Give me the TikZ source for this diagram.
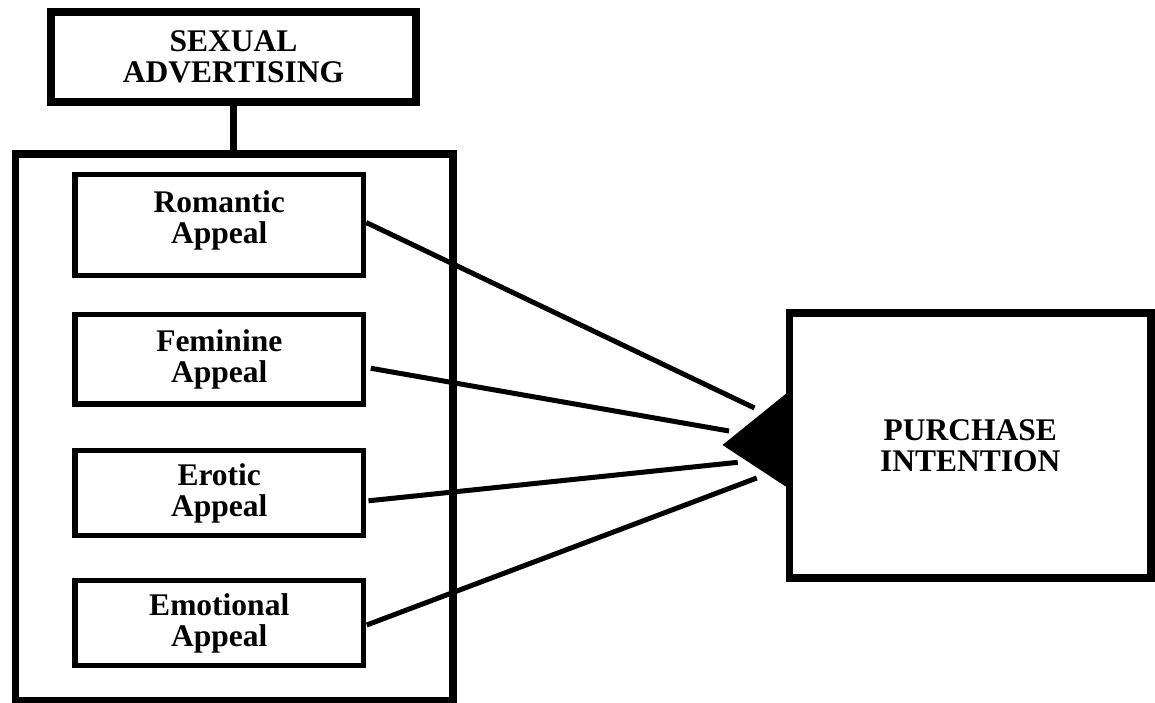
\documentclass[tikz,border=0pt]{standalone}
\usepackage{fontspec}
\setmainfont{Liberation Serif}
\usetikzlibrary{calc}
\tikzset{
  txt/.style={align=center, font=\bfseries\fontsize{31.5}{31}\selectfont},
  thickbox/.style={draw, line width=7.5pt, inner sep=0pt, txt},
  appealbox/.style={draw, line width=5.5pt, inner sep=0pt, txt, minimum width=288.5pt},
  link/.style={line width=5pt},
}
\begin{document}
\begin{tikzpicture}[x=1pt,y=-1pt]
\useasboundingbox (0,0) rectangle (1155,702);
% top box and group
\node[thickbox, minimum width=365pt, minimum height=90pt] (sa) at (233.5,57) {SEXUAL\\ADVERTISING};
\node[thickbox, minimum width=437.5pt, minimum height=546.5pt] (grp) at (234,427.25) {};
\draw[line width=7pt] (sa.south) -- (sa.south |- grp.north);
% appeal boxes
\node[appealbox, minimum height=101pt, label={[txt, yshift=5pt]center:Romantic\\Appeal}] (rom) at (219.25,225) {};
\node[appealbox, minimum height=89.5pt] (fem) at (219.25,359.25) {Feminine\\Appeal};
\node[appealbox, minimum height=85pt] (ero) at (219.25,493) {Erotic\\Appeal};
\node[appealbox, minimum height=85pt] (emo) at (219.25,623) {Emotional\\Appeal};
% purchase intention
\node[thickbox, minimum width=361.5pt, minimum height=265pt] (pi) at (970.25,445.5) {PURCHASE\\INTENTION};
\fill ($(pi.west)+(-63.25,-0.5)$) -- ($(pi.west)+(3,-54)$) -- ($(pi.west)+(3,43)$) -- cycle;
% connector ends
\coordinate (e1) at ($(pi.west)+(-31.25,-37.5)$);
\coordinate (e2) at ($(pi.west)+(-56.75,-14.5)$);
\coordinate (e3) at ($(pi.west)+(-48,16.8)$);
\coordinate (e4) at ($(pi.west)+(-29,32.5)$);
\draw[link] ($(rom.east)+(0,-2.5)$) -- (e1);
\draw[link] ($(fem.east)+(4.5,9)$) -- (e2);
\draw[link] ($(ero.east)+(2.25,7.8)$) -- (e3);
\draw[link] ($(emo.east)+(0.5,2)$) -- (e4);
\end{tikzpicture}
\end{document}
